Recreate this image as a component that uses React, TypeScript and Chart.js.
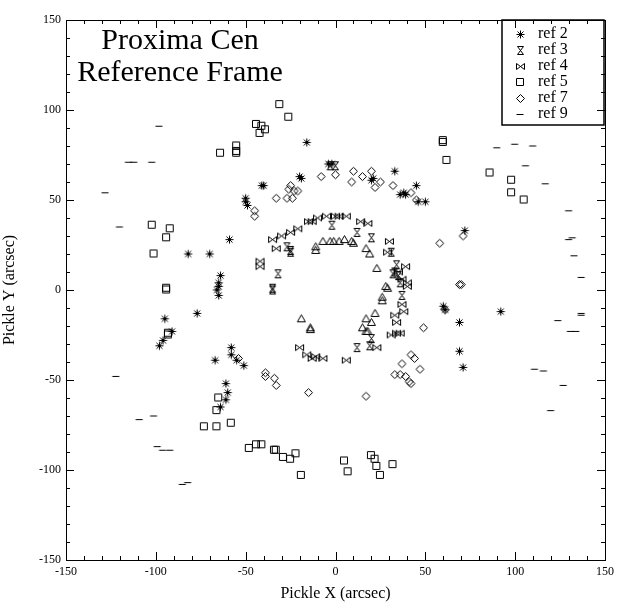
import React, { useEffect, useRef } from "react";
import { Chart, registerables } from "chart.js";
Chart.register(...registerables);

type P = [number, number];
const ref2: P[] = [[-16,82],[-40,58],[-41,58],[-49,47],[-50,51],[-50,49],[-59,28],[-70,20],[-82,20],[-64,8],[-65,4],[-65,2],[-66,0],[-65,-3],[-77,-13],[-95,-16],[-98,-31],[-96,-28],[-91,-23],[-58,-32],[-58,-36],[-67,-39],[-55,-39],[-51,-42],[-61,-52],[-60,-57],[-61,-61],[-64,-65],[-4,70],[-2,70],[-20,63],[-19,62],[33,66],[38,54],[36,53],[39,53],[45,58],[50,49],[46,49],[72,33],[60,-9],[61,-11],[69,-18],[92,-12],[69,-34],[71,-43],[21,62],[20,61]];
const ref3: P[] = [[-3,69],[0,69],[-2,36],[12,32],[20,29],[31,21],[34,14],[-32,9],[-27,24],[-25,22],[-35,1],[-35,0],[37,-3],[12,-32],[19,-31],[20,-27],[32,9],[35,8],[33,10],[36,4],[-25,21]];
const ref4: P[] = [[14,38],[18,37],[30,27],[-21,34],[-15,38],[-13,38],[-10,40],[-5,41],[0,41],[2,41],[6,41],[-25,32],[-30,30],[-35,28],[-33,23],[-42,16],[-42,13],[29,21],[39,13],[40,4],[40,2],[-20,-32],[-16,-36],[-13,-38],[-11,-37],[-7,-38],[6,-39],[23,-32],[33,-14],[38,-12],[34,-18],[31,-25],[34,-24],[36,-24],[37,6],[35,10],[37,-8]];
const ref5: P[] = [[-31,103],[-26,96],[-41,91],[-44,92],[-39,89],[-42,87],[-55,80],[-55,77],[-55,76],[-64,76],[-102,36],[-92,34],[-94,29],[-101,20],[-94,1],[-94,0],[-93,-24],[-93,-25],[-66,-67],[-65,-60],[-73,-76],[-66,-76],[-58,-74],[-48,-88],[-44,-86],[-41,-86],[-34,-89],[-33,-89],[-29,-93],[-25,-94],[-22,-91],[-19,-103],[5,-95],[7,-101],[20,-92],[22,-94],[23,-98],[25,-103],[32,-97],[60,83],[60,82],[62,72],[86,65],[98,61],[98,54],[105,50]];
const ref7: P[] = [[-45,44],[-45,41],[-33,51],[-25,58],[-26,56],[-23,55],[-27,51],[-24,51],[-21,55],[-8,63],[0,64],[10,66],[9,60],[15,63],[20,66],[22,57],[25,60],[32,58],[42,54],[45,50],[58,26],[71,30],[69,3],[70,3],[61,-11],[49,-21],[42,-36],[37,-41],[44,-38],[47,-44],[39,-48],[33,-47],[36,-47],[41,-51],[42,-52],[-15,-57],[17,-59],[-54,-38],[-39,-46],[-39,-48],[-34,-49],[-33,-53]];
const ref9: P[] = [[-128,54],[-120,35],[-115,71],[-112,71],[-102,71],[-98,91],[-122,-48],[-109,-72],[-101,-70],[-99,-87],[-96,-89],[-92,-89],[-85,-108],[-82,-107],[90,79],[100,81],[106,69],[110,80],[117,59],[130,44],[130,28],[132,29],[133,19],[137,7],[137,-13],[137,-14],[124,-17],[131,-23],[134,-23],[111,-44],[116,-45],[127,-53],[120,-67]];
const refT: P[] = [[-11,24],[-11,22],[-7,27],[-3,27],[-1,27],[2,27],[5,28],[9,27],[10,26],[17,23],[19,20],[23,12],[28,2],[29,1],[26,-4],[26,-6],[22,-13],[17,-16],[20,-18],[15,-21],[17,-23],[18,-23],[-19,-16],[-14,-21],[-14,-22]];
const legendNames = ["ref 2", "ref 3", "ref 4", "ref 5", "ref 7", "ref 9"];

function mk(draw: (c: CanvasRenderingContext2D) => void) {
  const c = document.createElement("canvas");
  c.width = 11; c.height = 11;
  const g = c.getContext("2d")!;
  g.strokeStyle = "#000"; g.lineWidth = 1;
  g.beginPath(); draw(g); g.stroke();
  return c;
}
const imgs = [
  mk(g => { g.moveTo(1.5,5.5); g.lineTo(9.5,5.5); g.moveTo(5.5,1.5); g.lineTo(5.5,9.5); g.moveTo(2.5,2.5); g.lineTo(8.5,8.5); g.moveTo(8.5,2.5); g.lineTo(2.5,8.5); }),
  mk(g => { g.moveTo(2.5,1.5); g.lineTo(8.5,1.5); g.lineTo(2.5,9.5); g.lineTo(8.5,9.5); g.closePath(); }),
  mk(g => { g.moveTo(1.5,2.5); g.lineTo(1.5,8.5); g.lineTo(9.5,2.5); g.lineTo(9.5,8.5); g.closePath(); }),
  mk(g => { g.rect(1.5,1.5,7,7); }),
  mk(g => { g.moveTo(5.5,1.5); g.lineTo(9.5,5.5); g.lineTo(5.5,9.5); g.lineTo(1.5,5.5); g.closePath(); }),
  mk(g => { g.moveTo(1.5,5.5); g.lineTo(8.5,5.5); }),
  mk(g => { g.moveTo(5.5,1.5); g.lineTo(9.5,8.5); g.lineTo(1.5,8.5); g.closePath(); }),
];

const ticksPlugin = {
  id: "ticksIn",
  afterDraw(chart: any) {
    const { ctx, chartArea: a, scales } = chart;
    ctx.save();
    ctx.strokeStyle = "#000"; ctx.lineWidth = 1;
    ctx.strokeRect(a.left + 0.5, a.top + 0.5, a.right - a.left, a.bottom - a.top);
    ctx.beginPath();
    for (let v = -150; v <= 150; v += 10) {
      const L = v % 50 === 0 ? 8 : 4;
      const x = Math.round(scales.x.getPixelForValue(v)) + 0.5;
      const y = Math.round(scales.y.getPixelForValue(v)) + 0.5;
      ctx.moveTo(x, a.bottom); ctx.lineTo(x, a.bottom - L);
      ctx.moveTo(x, a.top); ctx.lineTo(x, a.top + L);
      ctx.moveTo(a.left, y); ctx.lineTo(a.left + L, y);
      ctx.moveTo(a.right, y); ctx.lineTo(a.right - L, y);
    }
    ctx.stroke();
    // legend
    const lx = 502, ly = 20, w = 102, h = 105;
    ctx.lineWidth = 1.5;
    ctx.strokeRect(lx, ly, w, h);
    ctx.font = "16px 'Liberation Serif'";
    ctx.fillStyle = "#000"; ctx.textBaseline = "middle";
    legendNames.forEach((n, i) => {
      const yy = ly + 14 + i * 16;
      ctx.drawImage(imgs[i], lx + 13, yy - 5);
      ctx.fillText(n, lx + 36, yy);
    });
    // title
    ctx.font = "30px 'Liberation Serif'";
    ctx.textBaseline = "alphabetic";
    ctx.textAlign = "center";
    ctx.fillText("Proxima Cen", 180, 49);
    ctx.fillText("Reference Frame", 180, 81);
    ctx.restore();
  },
};

export default function App() {
  const ref = useRef<HTMLCanvasElement>(null);
  useEffect(() => {
    document.body.style.margin = "0";
    const all = [ref2, ref3, ref4, ref5, ref7, ref9, refT];
    const chart = new Chart(ref.current!, {
      type: "scatter",
      data: {
        datasets: all.map((d, i) => ({
          label: i < 6 ? legendNames[i] : "ref",
          data: d.map(([x, y]) => ({ x, y })),
          pointStyle: imgs[i] as any,
          pointRadius: 5,
        })),
      },
      options: {
        animation: false,
        responsive: false,
        layout: { padding: { top: 20, right: 12, left: 0, bottom: 0 } },
        plugins: { legend: { display: false }, tooltip: { enabled: false } },
        scales: {
          x: {
            min: -150, max: 150,
            grid: { display: false, drawTicks: false },
            border: { display: false },
            ticks: { stepSize: 50, color: "#000", font: { family: "Liberation Serif", size: 12 }, padding: 5 },
            title: { display: true, text: "Pickle X (arcsec)", color: "#000", font: { family: "Liberation Serif", size: 16 }, padding: 0 },
            afterFit: (s: any) => { s.height = 43; },
          },
          y: {
            min: -150, max: 150,
            grid: { display: false, drawTicks: false },
            border: { display: false },
            ticks: { stepSize: 50, color: "#000", font: { family: "Liberation Serif", size: 12 }, padding: 5 },
            title: { display: true, text: "Pickle Y (arcsec)", color: "#000", font: { family: "Liberation Serif", size: 16 }, padding: 0 },
            afterFit: (s: any) => { s.width = 66; },
          },
        },
      },
      plugins: [ticksPlugin],
    });
    return () => chart.destroy();
  }, []);
  return <canvas ref={ref} width={619} height={603} style={{ display: "block" }} />;
}
